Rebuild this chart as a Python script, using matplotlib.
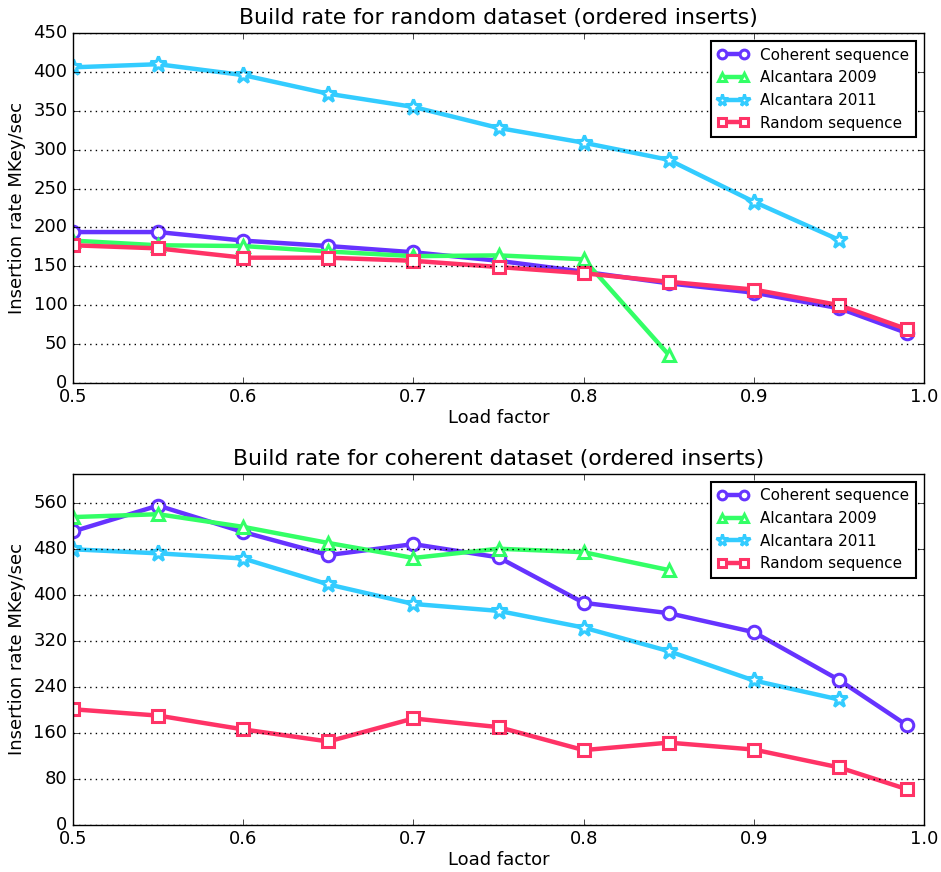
import matplotlib
matplotlib.use("Agg")
import matplotlib.pyplot as plt

load = [0.5, 0.55, 0.6, 0.65, 0.7, 0.75, 0.8, 0.85, 0.9, 0.95, 0.99]

labels = ["Coherent sequence", "Alcantara 2009", "Alcantara 2011", "Random sequence"]

# Random dataset
rnd_coherent = [194, 194, 183, 176, 168, 157, 143, 128, 116, 96, 64]
rnd_alc2009 = [183, 177, 176, 169, 163, 164, 159, 36]
rnd_alc2011 = [406, 410, 396, 372, 355, 328, 309, 287, 233, 184]
rnd_random = [177, 173, 161, 161, 157, 149, 141, 130, 120, 100, 69]

# Coherent dataset
coh_coherent = [510, 555, 509, 469, 488, 465, 386, 368, 335, 252, 173]
coh_alc2009 = [535, 540, 518, 490, 464, 480, 474, 443]
coh_alc2011 = [479, 472, 463, 418, 384, 372, 343, 302, 251, 218]
coh_random = [201, 190, 166, 145, 185, 170, 130, 143, 131, 100, 62]

plt.style.use("classic")
plt.rcParams["font.family"] = "DejaVu Sans"

colors = ["#6633ff", "#33ff66", "#33ccff", "#ff3366"]
markers = ["o", "^", "*", "s"]
msizes = [9, 9, 12, 9]

fig = plt.figure(figsize=(9.41, 8.72), dpi=100, facecolor="white")
ax1 = fig.add_axes([0.0776, 0.561, 0.9044, 0.401])
ax2 = fig.add_axes([0.0776, 0.054, 0.9044, 0.4025])


def draw(ax, series, title, ylim, yticks):
    for s, lab, c, m, ms in zip(series, labels, colors, markers, msizes):
        ax.plot(load[:len(s)], s, color=c, marker=m, markersize=ms,
                markerfacecolor="white", markeredgecolor=c,
                markeredgewidth=2.2, linewidth=3.2, label=lab)
    ax.set_xlim(0.5, 1.0)
    ax.set_ylim(*ylim)
    ax.set_xticks([0.5, 0.6, 0.7, 0.8, 0.9, 1.0])
    ax.set_yticks(yticks)
    ax.grid(True, axis="y", linestyle=":", color="black", linewidth=1)
    ax.set_xlabel("Load factor", fontsize=13, labelpad=2)
    ax.set_ylabel("Insertion rate MKey/sec", fontsize=13)
    ax.set_title(title, fontsize=15.8, y=1.005)
    ax.tick_params(labelsize=13)
    leg = ax.legend(loc="upper right", fontsize=11, numpoints=2,
                    markerscale=0.7, handlelength=2.0, borderpad=0.45,
                    labelspacing=0.5)
    leg.get_frame().set_linewidth(1.5)


draw(ax1, [rnd_coherent, rnd_alc2009, rnd_alc2011, rnd_random],
     "Build rate for random dataset (ordered inserts)",
     (0, 450), range(0, 451, 50))
draw(ax2, [coh_coherent, coh_alc2009, coh_alc2011, coh_random],
     "Build rate for coherent dataset (ordered inserts)",
     (0, 610), range(0, 561, 80))

fig.savefig("out.png", dpi=100, facecolor="white")
